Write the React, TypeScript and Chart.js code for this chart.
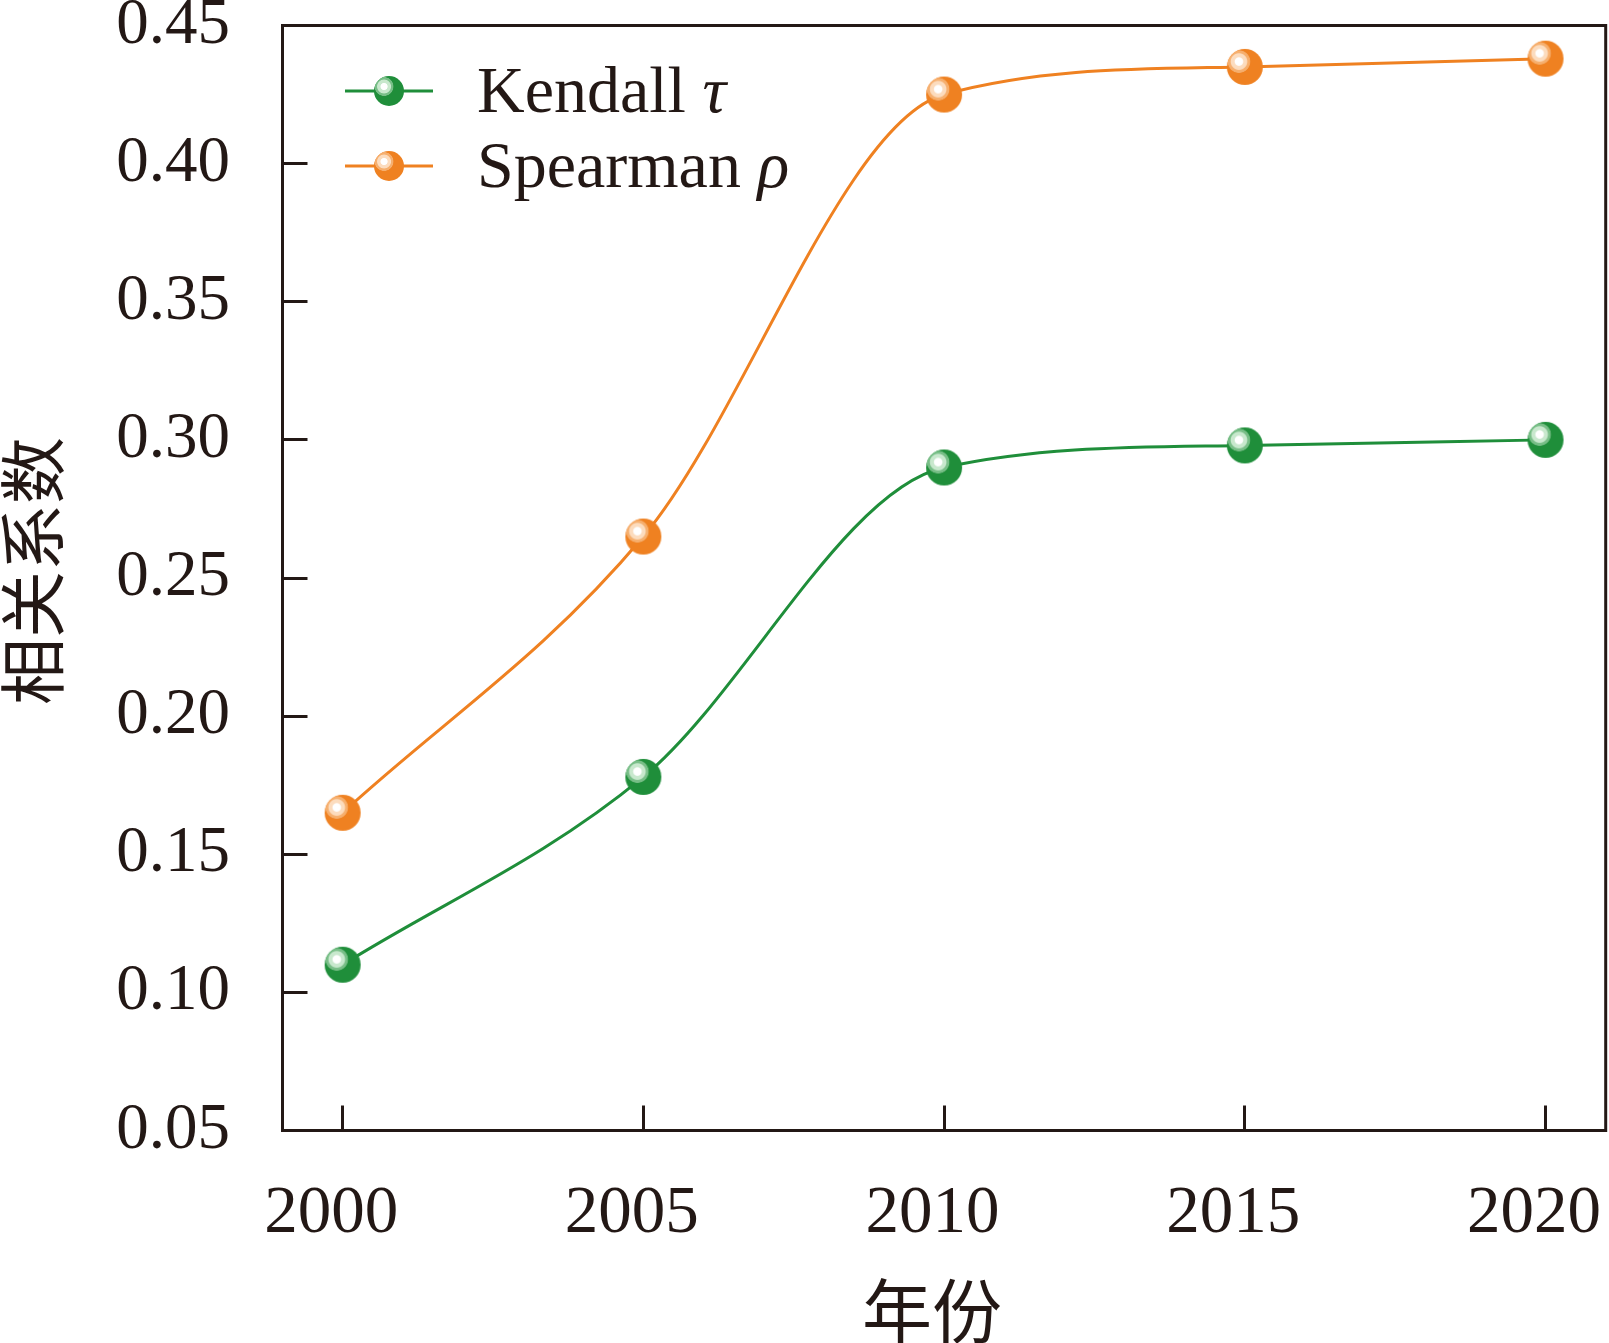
import React, { useEffect, useRef } from "react";
import { Chart, registerables } from "chart.js";

Chart.register(...registerables);

const YEARS = [2000, 2005, 2010, 2015, 2020];
const KENDALL = [0.11, 0.178, 0.29, 0.298, 0.3];
const SPEARMAN = [0.165, 0.265, 0.425, 0.435, 0.438];
const X_TICKS = [2000, 2005, 2010, 2015, 2020];
const Y_TICKS = [0.05, 0.1, 0.15, 0.2, 0.25, 0.3, 0.35, 0.4, 0.45];
const SERIES_NAMES = ["Kendall ", "Spearman "];
const SERIES_SYMBOLS = ["τ", "ρ"];
const X_TITLE = "年份";
const Y_TITLE = "相关系数";

const INK = "#231815";
const GREEN = "rgb(31,142,58)";
const GREEN_MID = "rgb(120,190,135)";
const GREEN_LIGHT = "rgb(200,232,205)";
const GREEN_T = "rgba(31,142,58,0)";
const ORANGE = "rgb(239,129,33)";
const ORANGE_MID = "rgb(246,175,110)";
const ORANGE_LIGHT = "rgb(252,220,190)";
const ORANGE_T = "rgba(239,129,33,0)";
const FONT = "'Liberation Serif', 'Noto Sans CJK SC', serif";
const CJK = "'Noto Sans CJK SC', sans-serif";

function makeSphere(color: string, mid: string, light: string, transparent: string, r: number) {
  const c = document.createElement("canvas");
  const s = Math.ceil(2 * r + 2);
  c.width = s;
  c.height = s;
  const ctx = c.getContext("2d")!;
  const cx = s / 2;
  const cy = s / 2;
  ctx.beginPath();
  ctx.arc(cx, cy, r, 0, Math.PI * 2);
  ctx.fillStyle = color;
  ctx.fill();
  const hx = cx - 0.33 * r;
  const hy = cy - 0.3 * r;
  const g = ctx.createRadialGradient(hx, hy, 0, hx, hy, 0.66 * r);
  g.addColorStop(0, "rgb(255,255,255)");
  g.addColorStop(0.32, "rgb(255,255,255)");
  g.addColorStop(0.4, light);
  g.addColorStop(0.66, light);
  g.addColorStop(0.74, mid);
  g.addColorStop(0.92, mid);
  g.addColorStop(1, transparent);
  ctx.beginPath();
  ctx.arc(cx, cy, r, 0, Math.PI * 2);
  ctx.fillStyle = g;
  ctx.fill();
  return c;
}

export default function App() {
  const ref = useRef<HTMLCanvasElement | null>(null);

  useEffect(() => {
    if (!ref.current) return;
    const greenSphere = makeSphere(GREEN, GREEN_MID, GREEN_LIGHT, GREEN_T, 18);
    const orangeSphere = makeSphere(ORANGE, ORANGE_MID, ORANGE_LIGHT, ORANGE_T, 18);
    const greenSmall = makeSphere(GREEN, GREEN_MID, GREEN_LIGHT, GREEN_T, 15);
    const orangeSmall = makeSphere(ORANGE, ORANGE_MID, ORANGE_LIGHT, ORANGE_T, 15);
    const colors = [GREEN, ORANGE];
    const smalls = [greenSmall, orangeSmall];

    const framePlugin = {
      id: "frameLegend",
      afterDraw(chart: any) {
        const { ctx, chartArea } = chart;
        const { left, top, right, bottom } = chartArea;
        ctx.save();
        ctx.strokeStyle = INK;
        ctx.lineWidth = 3;
        ctx.strokeRect(left, top, right - left, bottom - top);
        // axis titles
        ctx.fillStyle = INK;
        ctx.font = `70px ${CJK}`;
        ctx.textAlign = "center";
        ctx.textBaseline = "middle";
        ctx.fillText(X_TITLE, (left + right) / 2 - 12, 1311);
        ctx.save();
        ctx.font = `67px ${CJK}`;
        ctx.translate(33, (top + bottom) / 2 - 7);
        ctx.rotate(-Math.PI / 2);
        ctx.fillText(Y_TITLE, 0, 0);
        ctx.restore();
        // legend
        const rows = [top + 65.5, top + 140.5];
        rows.forEach((y, i) => {
          ctx.strokeStyle = colors[i];
          ctx.lineWidth = 3;
          ctx.beginPath();
          ctx.moveTo(left + 62.5, y);
          ctx.lineTo(left + 150.5, y);
          ctx.stroke();
          const img = smalls[i];
          ctx.drawImage(img, left + 106.5 - img.width / 2, y - img.height / 2);
          ctx.fillStyle = INK;
          ctx.textBaseline = "alphabetic";
          ctx.textAlign = "left";
          ctx.font = `66px ${FONT}`;
          const tx = left + 194.5;
          ctx.fillText(SERIES_NAMES[i], tx, y + 20.5);
          const w = ctx.measureText(SERIES_NAMES[i]).width;
          ctx.font = `italic 66px ${FONT}`;
          ctx.fillText(SERIES_SYMBOLS[i], tx + w, y + 20.5);
        });
        ctx.restore();
      },
    };

    const chart = new Chart(ref.current, {
      type: "line",
      data: {
        datasets: [
          {
            label: "Kendall τ",
            data: YEARS.map((x, i) => ({ x, y: KENDALL[i] })),
            borderColor: GREEN,
            backgroundColor: GREEN,
            borderWidth: 3,
            cubicInterpolationMode: "monotone",
            pointStyle: greenSphere as any,
            pointRadius: 18,
          },
          {
            label: "Spearman ρ",
            data: YEARS.map((x, i) => ({ x, y: SPEARMAN[i] })),
            borderColor: ORANGE,
            backgroundColor: ORANGE,
            borderWidth: 3,
            cubicInterpolationMode: "monotone",
            pointStyle: orangeSphere as any,
            pointRadius: 18,
          },
        ],
      },
      options: {
        animation: false,
        responsive: false,
        devicePixelRatio: 1,
        layout: { autoPadding: false, padding: { top: 25.5, right: 3.3, left: 0, bottom: 0 } },
        plugins: { legend: { display: false }, tooltip: { enabled: false } },
        scales: {
          x: {
            type: "linear",
            min: 1999,
            max: 2021,
            afterBuildTicks: (s: any) => {
              s.ticks = X_TICKS.map((v) => ({ value: v }));
            },
            afterFit: (s: any) => {
              s.height = 212.5;
              s.paddingLeft = 0;
              s.paddingRight = 0;
            },
            ticks: {
              font: { family: FONT, size: 67, lineHeight: 1 },
              color: INK,
              padding: 75,
              labelOffset: -11.5,
              maxRotation: 0,
              autoSkip: false,
              callback: (v: any) => String(v),
            },
            grid: {
              drawOnChartArea: false,
              drawTicks: true,
              tickLength: -25,
              lineWidth: 3,
              color: INK,
            },
            border: { display: false },
          },
          y: {
            type: "linear",
            min: 0.05,
            max: 0.45,
            afterBuildTicks: (s: any) => {
              s.ticks = Y_TICKS.map((v) => ({ value: v }));
            },
            afterFit: (s: any) => {
              s.width = 282.5;
              s.paddingTop = 0;
              s.paddingBottom = 0;
            },
            ticks: {
              font: { family: FONT, size: 65, lineHeight: 1 },
              color: INK,
              padding: 77.5,
              autoSkip: false,
              callback: (v: any) => Number(v).toFixed(2),
            },
            grid: {
              drawOnChartArea: false,
              drawTicks: true,
              tickLength: -25,
              lineWidth: 3,
              color: INK,
            },
            border: { display: false },
          },
        },
      },
      plugins: [framePlugin],
    } as any);
    return () => chart.destroy();
  }, []);

  return (
    <div style={{ position: "absolute", left: 0, top: 0, width: 1609, height: 1343, background: "#fff" }}>
      <canvas ref={ref} width={1609} height={1343} style={{ display: "block" }} />
    </div>
  );
}
